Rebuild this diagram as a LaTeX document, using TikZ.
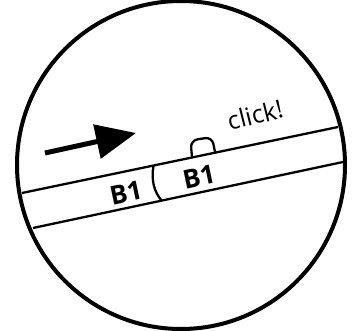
\documentclass[tikz,border=0pt]{standalone}
\usepackage{fontspec}
\setmainfont{Open Sans}
\usepackage{tikz}
\usetikzlibrary{arrows.meta,positioning,calc}

\begin{document}
\begin{tikzpicture}[
    x=1pt, y=-1pt,
    rim/.style={draw, line width=4pt},
    wall/.style={draw, line width=2.3pt},
    arr/.style={-{Triangle[length=40pt, width=34pt]}, line width=5pt},
    tag/.style={font=\bfseries\fontsize{26}{28}\selectfont, rotate=12, inner sep=0pt},
    note/.style={font=\fontsize{25}{28}\selectfont, rotate=14, inner sep=0pt}
  ]
  \useasboundingbox (0,0) rectangle (356,331);

  %% Outer circle
  \node[rim, circle, minimum size=328pt, inner sep=0pt] (lens) at (181,165) {};

  %% Tube walls
  \coordinate (ul) at (22,193);
  \coordinate (ur) at (338,127);
  \coordinate (ll) at (33,228);
  \coordinate (lr) at (343,162);
  \draw[wall] (ul) -- (ur);
  \draw[wall] (ll) -- (lr);

  %% Joint between the two parts
  \coordinate (jt) at (153.5,166);
  \coordinate (jb) at (162,201);
  \draw[wall] (jt) .. controls (151,180) and (154,192) .. (jb);

  %% Latch
  \coordinate (la) at (192,157);
  \coordinate (lb) at (215,152);
  \draw[wall, rounded corners=7pt] (la) -- (190.5,140.5) -- (212,137) -- (lb);

  %% Motion arrow
  \coordinate (tail) at (45,153);
  \coordinate (tip) at (136,133);
  \draw[arr] (tail) -- (tip);

  %% Labels
  \node[tag] (b1l) at (126,193) {B1};
  \node[tag] (b1r) at (199,177) {B1};
  \node[note] (click) at (255,115) {click!};

\end{tikzpicture}
\end{document}
